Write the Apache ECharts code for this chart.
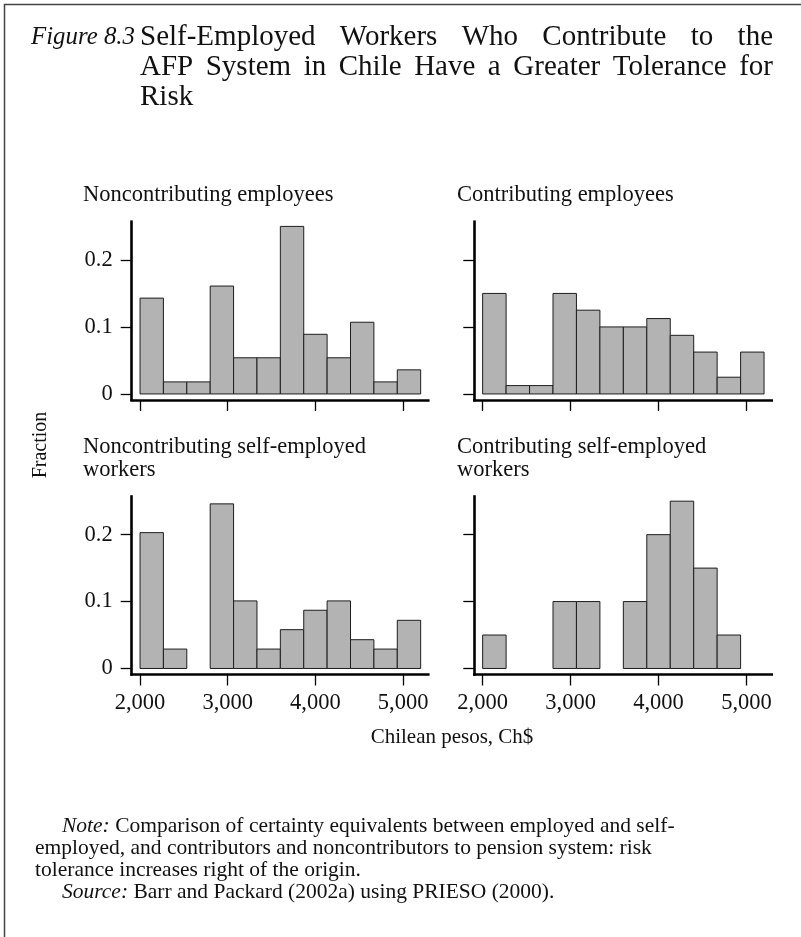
<!DOCTYPE html>
<html><head><meta charset="utf-8">
<script src="https://cdn.jsdelivr.net/npm/echarts@6/dist/echarts.min.js"></script>
<style>html,body{margin:0;padding:0;background:#fff}#c{width:801px;height:937px}</style>
</head><body><div id="c"></div><script>
// ---- data ----
const binEdges = [2000, 2266.67, 2533.33, 2800, 3066.67, 3333.33, 3600, 3866.67, 4133.33, 4400, 4666.67, 4933.33, 5200];
const xTicks = [2000, 3000, 4000, 5000];
const yTicks = [0, 0.1, 0.2];
const panelTitles = [
  ['Noncontributing employees'],
  ['Contributing employees'],
  ['Noncontributing self-employed', 'workers'],
  ['Contributing self-employed', 'workers']
];
const nonContribEmployees = [0.143, 0.018, 0.018, 0.161, 0.054, 0.054, 0.250, 0.089, 0.054, 0.107, 0.018, 0.036];
const contribEmployees    = [0.150, 0.0125, 0.0125, 0.150, 0.125, 0.100, 0.100, 0.1125, 0.0875, 0.0625, 0.025, 0.0625];
const nonContribSelf      = [0.203, 0.029, 0, 0.246, 0.101, 0.029, 0.058, 0.087, 0.101, 0.043, 0.029, 0.072];
const contribSelf         = [0.05, 0, 0, 0.10, 0.10, 0, 0.10, 0.20, 0.25, 0.15, 0.05, 0];
const panelValues = [nonContribEmployees, contribEmployees, nonContribSelf, contribSelf];
const titleLines = ['Self-Employed Workers Who Contribute to the', 'AFP System in Chile Have a Greater Tolerance for', 'Risk'];
const figLabel = 'Figure 8.3';
const xAxisTitle = 'Chilean pesos, Ch$';
const yAxisTitle = 'Fraction';
const noteLines = [
  'Comparison of certainty equivalents between employed and self-',
  'employed, and contributors and noncontributors to pension system: risk',
  'tolerance increases right of the origin.'
];
const sourceText = 'Barr and Packard (2002a) using PRIESO (2000).';

// ---- layout ----
const SERIF = '"Liberation Serif", "DejaVu Serif", serif';
const grids = [
  {left: 131.7, top: 221.7, width: 296.6, height: 178.3},
  {left: 474.3, top: 221.7, width: 297.4, height: 178.3},
  {left: 131.7, top: 496.5, width: 296.6, height: 178},
  {left: 474.3, top: 496.5, width: 297.4, height: 178}
];
const X_MIN = 1905, X_MAX = 5287, Y_MIN = -0.009, Y_MAX = 0.257;
const TICK_FONT = 22.5;

const ctx = document.createElement('canvas').getContext('2d');
function measure(text, size, italic) {
  ctx.font = (italic ? 'italic ' : '') + size + 'px ' + SERIF;
  return ctx.measureText(text).width;
}

const chart = echarts.init(document.getElementById('c'), null, {renderer: 'canvas'});

const xAxes = [], yAxes = [], series = [];
grids.forEach((g, i) => {
  const bottomRow = i >= 2, leftCol = i % 2 === 0;
  xAxes.push({
    type: 'value', gridIndex: i, min: X_MIN, max: X_MAX,
    splitLine: {show: false},
    axisLine: {show: true, onZero: false, lineStyle: {color: '#000', width: 2.6, cap: 'square'}},
    axisTick: {show: true, customValues: xTicks, length: 11, lineStyle: {color: '#000', width: 1.3}},
    axisLabel: {show: bottomRow, customValues: xTicks, margin: 17, color: '#111', fontFamily: SERIF, fontSize: TICK_FONT,
      formatter: v => String(Math.round(v)).replace(/\B(?=(\d{3})+(?!\d))/g, ',')}
  });
  yAxes.push({
    type: 'value', gridIndex: i, min: Y_MIN, max: Y_MAX,
    splitLine: {show: false},
    axisLine: {show: true, onZero: false, lineStyle: {color: '#000', width: 2.6, cap: 'square'}},
    axisTick: {show: true, customValues: yTicks, length: 11, lineStyle: {color: '#000', width: 1.3}},
    axisLabel: {show: leftCol, customValues: yTicks, margin: 19, color: '#111', fontFamily: SERIF, fontSize: TICK_FONT,
      formatter: v => (Math.abs(v) < 1e-9 ? '0' : v.toFixed(1))}
  });
  const data = [];
  panelValues[i].forEach((v, k) => data.push([binEdges[k], binEdges[k + 1], v]));
  series.push({
    type: 'custom', xAxisIndex: i, yAxisIndex: i, data: data, clip: false,
    renderItem: (params, api) => {
      const v = api.value(2);
      if (!v) return null;
      const p0 = api.coord([api.value(0), v]);
      const p1 = api.coord([api.value(1), 0]);
      return {type: 'rect', shape: {x: p0[0], y: p0[1], width: p1[0] - p0[0], height: p1[1] - p0[1]},
        style: {fill: '#b3b3b3', stroke: '#1e1e1e', lineWidth: 1}};
    }
  });
});

// ---- texts ----
const graphic = [];
function txt(text, x, y, size, opts) {
  opts = opts || {};
  graphic.push({type: 'text', x: x, y: y, rotation: opts.rotation || 0, silent: true,
    style: {text: text, fill: '#111', font: (opts.italic ? 'italic ' : '') + size + 'px ' + SERIF,
      align: opts.align || 'left', textAlign: opts.align || 'left',
      verticalAlign: 'middle', textVerticalAlign: 'middle', rich: opts.rich}});
}
// border
graphic.push({type: 'polyline', silent: true, shape: {points: [[4.5, 937], [4.5, 4.5], [801, 4.5]]},
  style: {stroke: '#444', lineWidth: 1.5, fill: null}});

// title: line 2 fills the block, line 1 justified
const TL = 140, TR = 773;
const TS = Math.min(29, 20 * (TR - TL) / measure(titleLines[1], 20));
const FS = Math.min(TS, 20 * 104 / measure(figLabel, 20, true));
txt(figLabel, 31, 37, FS, {italic: true});
titleLines.forEach((line, li) => {
  const y = 37 + li * 30;
  if (li === titleLines.length - 1) { txt(line, TL, y, TS); return; }
  const words = line.split(' ');
  const widths = words.map(w => measure(w, TS));
  const total = widths.reduce((a, b) => a + b, 0);
  const gap = (TR - TL - total) / (words.length - 1);
  let x = TL;
  words.forEach((w, k) => { txt(w, x, y, TS); x += widths[k] + gap; });
});

// panel titles
const titlePos = [[83, 195], [457, 195], [83, 447], [457, 447]];
panelTitles.forEach((lines, i) => lines.forEach((l, k) => txt(l, titlePos[i][0], titlePos[i][1] + k * 23.5, 22.5)));

// axis titles
txt(xAxisTitle, 452, 737, 21, {align: 'center'});
txt(yAxisTitle, 41, 445, 20, {align: 'center', rotation: Math.PI / 2});

// notes
const NS = Math.min(21.5, 20 * (705 - 35) / measure(noteLines[1], 20));
const richN = {i: {font: 'italic ' + NS + 'px ' + SERIF, fill: '#111'}, r: {font: NS + 'px ' + SERIF, fill: '#111'}};
txt('{i|Note:}{r| ' + noteLines[0] + '}', 62, 826, NS, {rich: richN});
txt(noteLines[1], 35, 848, NS);
txt(noteLines[2], 35, 870, NS);
txt('{i|Source:}{r| ' + sourceText + '}', 62, 892, NS, {rich: richN});

chart.setOption({
  animation: false,
  backgroundColor: '#fff',
  grid: grids.map(g => Object.assign({containLabel: false}, g)),
  xAxis: xAxes, yAxis: yAxes, series: series, graphic: graphic
});
</script></body></html>
